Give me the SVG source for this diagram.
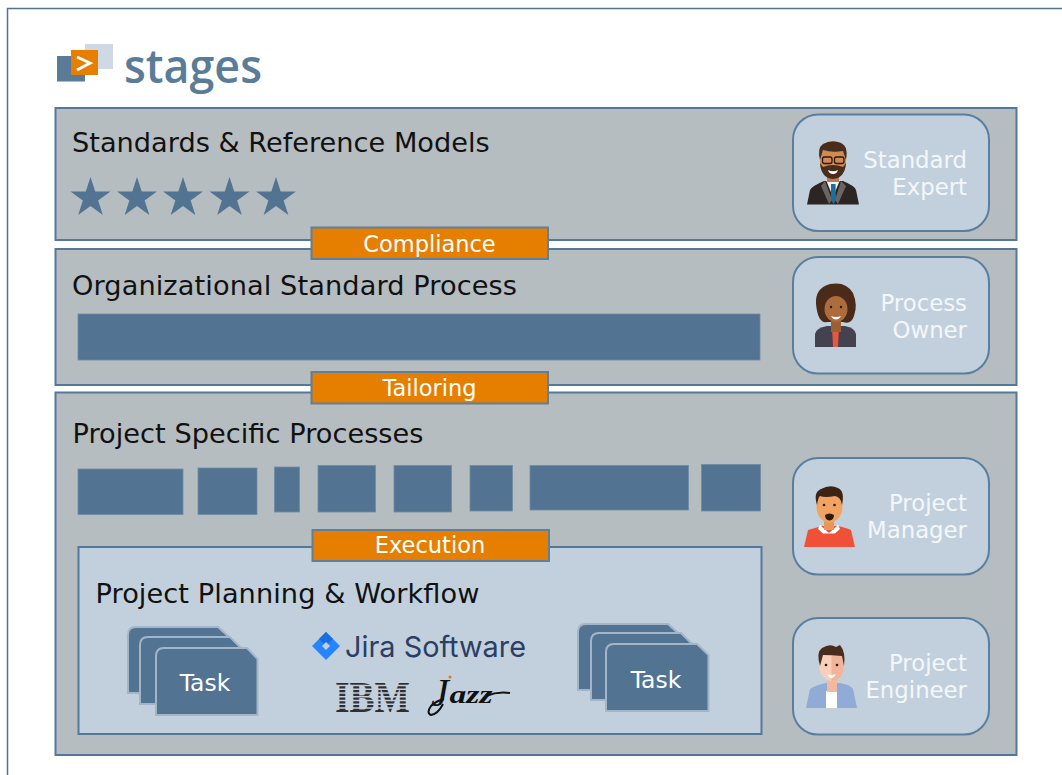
<svg xmlns="http://www.w3.org/2000/svg" width="1062" height="775" viewBox="0 0 1062 775">
<style>
text{font-family:"DejaVu Sans",Verdana,sans-serif}
.band{fill:#b5bdc1;stroke:#54789a;stroke-width:2}
.inner{fill:#c2d0de;stroke:#54789a;stroke-width:2}
.role{fill:#c2d0de;stroke:#5a7f9e;stroke-width:2}
.title{font-size:27.2px;fill:#111}
.rt{font-size:22.800px;fill:#f4f7fa;text-anchor:end}
.tag{fill:#e67e00;stroke:#5f7f9b;stroke-width:2}
.tt{font-size:22.500px;fill:#fff;text-anchor:middle}
.task{font-size:23.500px;fill:#fff;text-anchor:middle}
.bar{fill:#527391;stroke:#6f8ca3;stroke-width:.8}
.card{fill:#527391;stroke:#a3b6c9;stroke-width:2}
.star{fill:#527391}
</style>
<defs>
<polygon id="star" points="0,-21 4.71,-6.49 19.97,-6.49 7.63,2.48 12.35,17 0,8.02 -12.35,17 -7.63,2.48 -19.97,-6.49 -4.71,-6.49"/>
</defs>
<rect width="1062" height="775" fill="#fff"/>
<path d="M7.5 775V8.5H1062" fill="none" stroke="#527391" stroke-width="1.5"/>

<g id="logo">
<rect x="57" y="56" width="28" height="25.5" fill="#5a7b97"/>
<rect x="85" y="44" width="28" height="25" fill="#ced9e5"/>
<rect x="71" y="50" width="27" height="25" fill="#e67e00"/>
<path d="M77 57L90 63L77 70" fill="none" stroke="#fff" stroke-width="3"/>
<text x="124" y="83" font-size="47" font-weight="600" style="font-family:'Open Sans',sans-serif" fill="#5a7c98" textLength="138" lengthAdjust="spacingAndGlyphs">stages</text>
</g>

<g id="standards">
<rect class="band" x="55.5" y="108" width="961" height="132"/>
<text class="title" x="72" y="152">Standards &amp; Reference Models</text>
<use href="#star" class="star" x="90.5" y="198"/>
<use href="#star" class="star" x="137" y="198"/>
<use href="#star" class="star" x="183" y="198"/>
<use href="#star" class="star" x="229.5" y="198"/>
<use href="#star" class="star" x="276" y="198"/>
</g>
<g id="organizational">
<rect class="band" x="55.5" y="249" width="961" height="136"/>
<text class="title" x="72" y="294.500" textLength="445">Organizational Standard Process</text>
<rect class="bar" x="78" y="314" width="682" height="46"/>
</g>
<g id="project">
<rect class="band" x="55.5" y="392.5" width="961" height="362.5"/>
<text class="title" x="72.500" y="443" textLength="351">Project Specific Processes</text>
<rect class="bar" x="78" y="469" width="105" height="45.500"/>
<rect class="bar" x="198" y="468" width="59" height="46.500"/>
<rect class="bar" x="274.500" y="467" width="25" height="45"/>
<rect class="bar" x="318" y="465.500" width="57.500" height="46.500"/>
<rect class="bar" x="394" y="465.500" width="57.500" height="46.500"/>
<rect class="bar" x="470" y="465.500" width="42.500" height="45.500"/>
<rect class="bar" x="530" y="465.500" width="158.500" height="44.500"/>
<rect class="bar" x="701.500" y="464.500" width="59" height="46.500"/>
</g>
<g id="planning">
<rect class="inner" x="78.500" y="547" width="683" height="187"/>
<text class="title" x="95.500" y="603" textLength="384">Project Planning &amp; Workflow</text>
</g>

<g id="tasks-left">
<path class="card" d="M128 693V635Q128 627 136 627H218L229 637V693Z"/>
<path class="card" d="M140 704V645Q140 637 148 637H230L241 648V704Z"/>
<path class="card" d="M156 715V656Q156 648 164 648H247L257.500 659V715Z"/>
<text class="task" x="205" y="691">Task</text>
</g>
<g id="tasks-right">
<path class="card" d="M578 690V632Q578 624 586 624H668L679 634V690Z"/>
<path class="card" d="M591 700V641Q591 633 599 633H681L692 644V700Z"/>
<path class="card" d="M606 711V652Q606 644 614 644H697L708.500 655V711Z"/>
<text class="task" x="656" y="688">Task</text>
</g>

<g id="jira">
<path d="M326 632L340 646L326 660L312 646Z" fill="#2684ff"/>
<path d="M326 632L333 639L326 646L319 639Z" fill="#1a6fe0"/>
<path d="M326 642L330 646L326 650L322 646Z" fill="#c2d0de"/>
<text x="345" y="657" font-size="29" style="font-family:Inter,sans-serif" fill="#2a3f63" textLength="181" lengthAdjust="spacingAndGlyphs">Jira Software</text>
</g>
<g id="ibm">
<text x="335" y="712" font-size="45" font-weight="700" style="font-family:'Liberation Serif',serif" fill="#2f2f2f" textLength="75" lengthAdjust="spacingAndGlyphs">IBM</text>
<path d="M334 685.500H412M334 689.250H412M334 693H412M334 696.750H412M334 700.500H412M334 704.250H412M334 708H412" stroke="#c2d0de" stroke-width="1.300"/>
</g>
<g id="jazz">
<text font-style="italic" style="font-family:'Liberation Serif',serif" fill="#111"><tspan x="431" y="706" font-size="40">J</tspan><tspan x="449.500" y="703" font-size="26" font-weight="700" textLength="43" lengthAdjust="spacingAndGlyphs">azz</tspan></text>
<path d="M443 704Q438 714 431 715Q426 713 431 706Q436 701 444 699M486 696Q498 691 510 693" fill="none" stroke="#111" stroke-width="2"/>
<circle cx="450" cy="677" r="1.500" fill="#e67e00"/>
</g>

<g id="connectors">
<g id="compliance"><rect class="tag" x="311.500" y="227.500" width="236.500" height="31.500"/><text class="tt" x="429.500" y="252">Compliance</text></g>
<g id="tailoring"><rect class="tag" x="311.500" y="372" width="236.500" height="31.500"/><text class="tt" x="429.500" y="396">Tailoring</text></g>
<g id="execution"><rect class="tag" x="312.500" y="530" width="236.500" height="31"/><text class="tt" x="430" y="553">Execution</text></g>
</g>

<g id="standard-expert">
<rect class="role" x="793" y="114.500" width="196" height="116.500" rx="25"/>
<path d="M807 204.500L810 190Q812 186 824 181L843 181Q855 186 856 190L859 204.500Z" fill="#2b2523"/>
<path d="M826 180L833 197L840 180Z" fill="#f2f2f2"/>
<path d="M825 181L832 200L829 204L821 186ZM841 181L835 200L838 204L846 186Z" fill="#6a6462"/>
<path d="M831 184H835.500L836 200L833.500 204L831 200Z" fill="#1c6e9e"/>
<rect x="827" y="172" width="12" height="10" fill="#b97a50"/>
<ellipse cx="833" cy="161" rx="13" ry="16.500" fill="#d08a55"/>
<path d="M820 163Q821 178 833 179Q845 178 846 163L843 167Q833 163 823 167Z" fill="#4a2c1c"/>
<path d="M828 170Q833 172.500 838 170Q837 174 833 174Q829 174 828 170Z" fill="#fff"/>
<path d="M820 160Q817 148 823 144Q830 140 838 142Q849 144 846 160L843 151Q832 153 823 150Z" fill="#4a2c1c"/>
<rect x="822.500" y="157" width="9.500" height="6.500" rx="2" fill="none" stroke="#2a1a12" stroke-width="1.300"/>
<rect x="834.500" y="157" width="9.500" height="6.500" rx="2" fill="none" stroke="#2a1a12" stroke-width="1.300"/>
<text class="rt" x="967" y="168">Standard</text>
<text class="rt" x="967" y="195">Expert</text>
</g>

<g id="process-owner">
<rect class="role" x="793" y="257" width="196" height="116.500" rx="25"/>
<path d="M815 347V334Q816 328 827 326H845Q855 328 856 334V347Z" fill="#45424f"/>
<path d="M832 326H839L838 347H833Z" fill="#e8563f"/>
<path d="M816 304Q815 288 830 284Q846 281 853 293Q858 305 854 316Q851 325 843 322H827Q818 324 816 304Z" fill="#4a2a18"/>
<rect x="831" y="316" width="10" height="16" fill="#9a5f33"/>
<ellipse cx="836" cy="309" rx="11.500" ry="13" fill="#ad6c3c"/>
<path d="M831 316Q836 318 841 316Q839 319.500 836 319.500Q833 319.500 831 316Z" fill="#fff"/>
<circle cx="831" cy="307" r="1.200" fill="#2a1a12"/><circle cx="841" cy="307" r="1.200" fill="#2a1a12"/>
<text class="rt" x="967" y="311">Process</text>
<text class="rt" x="967" y="338">Owner</text>
</g>

<g id="project-manager">
<rect class="role" x="793" y="458" width="196" height="116.500" rx="25"/>
<path d="M804 547L808 530Q815 528 822 526H838Q847 528 851 530L855 547Z" fill="#ef5138"/>
<path d="M820 525L829 533L838 525L840 529L835 533.500H823L818 529Z" fill="#fff"/>
<rect x="824" y="518" width="10" height="12" fill="#e8975a"/>
<ellipse cx="829.500" cy="507" rx="13" ry="15.500" fill="#f2a35f"/>
<path d="M825 515Q829.500 512 834 515Q834 520 829.500 520.500Q825 520 825 515Z" fill="#2f1c10"/>
<path d="M817 505Q813 492 821 489Q830 484 838 488Q845 491 842 505Q841 497 835 496Q825 498 820 496Q818 498 817 505Z" fill="#3d2314"/>
<circle cx="824" cy="505" r="1.300" fill="#2a1a12"/><circle cx="834.500" cy="505" r="1.300" fill="#2a1a12"/>
<text class="rt" x="967" y="511">Project</text>
<text class="rt" x="967" y="538">Manager</text>
</g>

<g id="project-engineer">
<rect class="role" x="793" y="618" width="196" height="116.500" rx="25"/>
<path d="M806 708L810 689Q816 685 826 683H840Q851 685 853 689L857 708Z" fill="#8fabd6"/>
<rect x="826" y="691" width="11" height="17" fill="#fff"/>
<rect x="827" y="678" width="10" height="14" fill="#f3b9a0"/>
<ellipse cx="831.500" cy="665" rx="12.500" ry="16" fill="#f9cfbb"/>
<path d="M831.500 650Q844 652 844 665Q844 680 831.500 681Z" fill="#f1b39a"/>
<path d="M820 666Q816 652 822 648Q830 643 836 647L840 645Q846 652 844 666L842 656Q832 655 823 655Z" fill="#4a2c1c"/>
<path d="M827 674Q831.500 676 836 674Q834 678 831.500 678Q829 678 827 674Z" fill="#fff"/>
<circle cx="826" cy="665" r="1.300" fill="#2a1a12"/><circle cx="837" cy="665" r="1.300" fill="#2a1a12"/>
<text class="rt" x="967" y="671">Project</text>
<text class="rt" x="967" y="698">Engineer</text>
</g>
</svg>
